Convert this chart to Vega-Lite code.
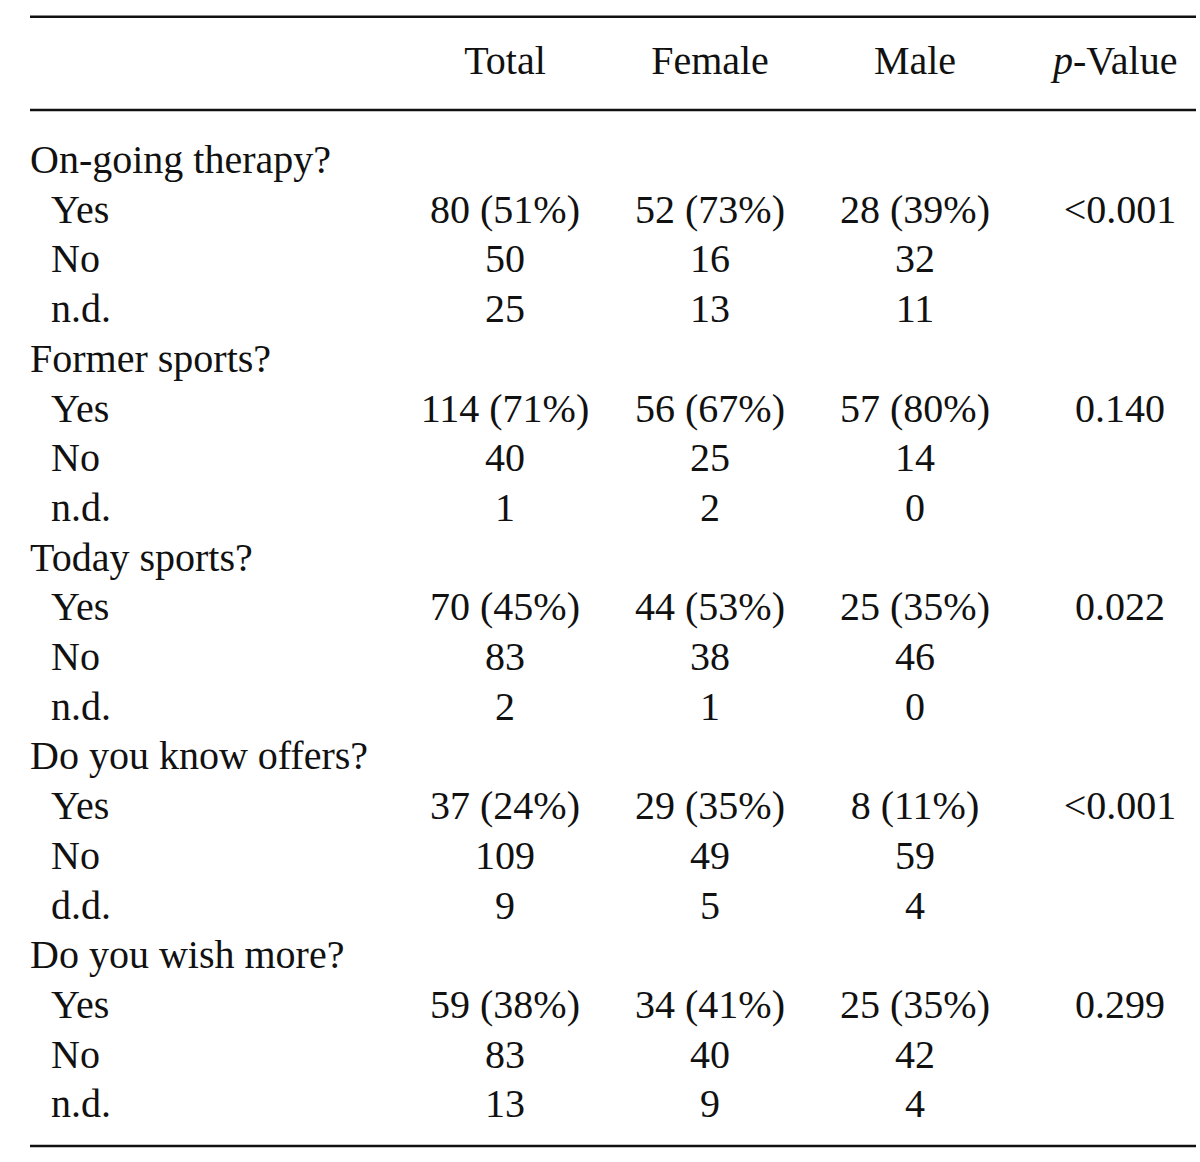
{
  "$schema": "https://vega.github.io/schema/vega-lite/v6.json",
  "width": 1200,
  "height": 1162,
  "autosize": {"type": "fit", "contains": "padding"},
  "padding": {"left": 28, "right": 2, "top": 0, "bottom": 0},
  "background": "white",
  "config": {
    "view": {"stroke": null},
    "text": {"font": "Liberation Serif", "fontSize": 40, "color": "#111", "baseline": "alphabetic"},
    "rule": {"color": "#111", "strokeWidth": 2.5}
  },
  "datasets": {
    "header": [
      {"col": "Total", "text": "Total"},
      {"col": "Female", "text": "Female"},
      {"col": "Male", "text": "Male"},
      {"col": "p-Value", "text": "p-Value"}
    ],
    "labels": [
      {"row": 1, "level": "section", "label": "On-going therapy?"},
      {"row": 2, "level": "item", "label": "Yes"},
      {"row": 3, "level": "item", "label": "No"},
      {"row": 4, "level": "item", "label": "n.d."},
      {"row": 5, "level": "section", "label": "Former sports?"},
      {"row": 6, "level": "item", "label": "Yes"},
      {"row": 7, "level": "item", "label": "No"},
      {"row": 8, "level": "item", "label": "n.d."},
      {"row": 9, "level": "section", "label": "Today sports?"},
      {"row": 10, "level": "item", "label": "Yes"},
      {"row": 11, "level": "item", "label": "No"},
      {"row": 12, "level": "item", "label": "n.d."},
      {"row": 13, "level": "section", "label": "Do you know offers?"},
      {"row": 14, "level": "item", "label": "Yes"},
      {"row": 15, "level": "item", "label": "No"},
      {"row": 16, "level": "item", "label": "d.d."},
      {"row": 17, "level": "section", "label": "Do you wish more?"},
      {"row": 18, "level": "item", "label": "Yes"},
      {"row": 19, "level": "item", "label": "No"},
      {"row": 20, "level": "item", "label": "n.d."}
    ],
    "cells": [
      {"row": 2, "col": "Total", "text": "80 (51%)"},
      {"row": 2, "col": "Female", "text": "52 (73%)"},
      {"row": 2, "col": "Male", "text": "28 (39%)"},
      {"row": 2, "col": "p-Value", "text": "<0.001"},
      {"row": 3, "col": "Total", "text": "50"},
      {"row": 3, "col": "Female", "text": "16"},
      {"row": 3, "col": "Male", "text": "32"},
      {"row": 4, "col": "Total", "text": "25"},
      {"row": 4, "col": "Female", "text": "13"},
      {"row": 4, "col": "Male", "text": "11"},
      {"row": 6, "col": "Total", "text": "114 (71%)"},
      {"row": 6, "col": "Female", "text": "56 (67%)"},
      {"row": 6, "col": "Male", "text": "57 (80%)"},
      {"row": 6, "col": "p-Value", "text": "0.140"},
      {"row": 7, "col": "Total", "text": "40"},
      {"row": 7, "col": "Female", "text": "25"},
      {"row": 7, "col": "Male", "text": "14"},
      {"row": 8, "col": "Total", "text": "1"},
      {"row": 8, "col": "Female", "text": "2"},
      {"row": 8, "col": "Male", "text": "0"},
      {"row": 10, "col": "Total", "text": "70 (45%)"},
      {"row": 10, "col": "Female", "text": "44 (53%)"},
      {"row": 10, "col": "Male", "text": "25 (35%)"},
      {"row": 10, "col": "p-Value", "text": "0.022"},
      {"row": 11, "col": "Total", "text": "83"},
      {"row": 11, "col": "Female", "text": "38"},
      {"row": 11, "col": "Male", "text": "46"},
      {"row": 12, "col": "Total", "text": "2"},
      {"row": 12, "col": "Female", "text": "1"},
      {"row": 12, "col": "Male", "text": "0"},
      {"row": 14, "col": "Total", "text": "37 (24%)"},
      {"row": 14, "col": "Female", "text": "29 (35%)"},
      {"row": 14, "col": "Male", "text": "8 (11%)"},
      {"row": 14, "col": "p-Value", "text": "<0.001"},
      {"row": 15, "col": "Total", "text": "109"},
      {"row": 15, "col": "Female", "text": "49"},
      {"row": 15, "col": "Male", "text": "59"},
      {"row": 16, "col": "Total", "text": "9"},
      {"row": 16, "col": "Female", "text": "5"},
      {"row": 16, "col": "Male", "text": "4"},
      {"row": 18, "col": "Total", "text": "59 (38%)"},
      {"row": 18, "col": "Female", "text": "34 (41%)"},
      {"row": 18, "col": "Male", "text": "25 (35%)"},
      {"row": 18, "col": "p-Value", "text": "0.299"},
      {"row": 19, "col": "Total", "text": "83"},
      {"row": 19, "col": "Female", "text": "40"},
      {"row": 19, "col": "Male", "text": "42"},
      {"row": 20, "col": "Total", "text": "13"},
      {"row": 20, "col": "Female", "text": "9"},
      {"row": 20, "col": "Male", "text": "4"}
    ],
    "rules": [
      {"rule": "top", "row": -2.145},
      {"rule": "header", "row": -0.268},
      {"rule": "bottom", "row": 20.577}
    ]
  },
  "resolve": {"scale": {"x": "independent"}},
  "layer": [
    {
      "data": {"name": "rules"},
      "mark": {"type": "rule"},
      "encoding": {
        "y": {"field": "row", "type": "quantitative", "scale": {"domain": [-2.481, 20.899], "reverse": true, "nice": false, "zero": false}, "axis": null}
      }
    },
    {
      "data": {"name": "header"},
      "transform": [{"filter": "datum.col !== 'p-Value'"}],
      "mark": {"type": "text", "align": "center"},
      "encoding": {
        "x": {"field": "col", "type": "nominal", "scale": {"type": "point", "domain": ["Total", "Female", "Male", "p-Value"], "range": [475, 1090], "padding": 0}, "axis": null},
        "y": {"datum": -1, "type": "quantitative", "scale": {"domain": [-2.481, 20.899], "reverse": true, "nice": false, "zero": false}, "axis": null},
        "text": {"field": "text"}
      }
    },
    {
      "data": {"name": "header"},
      "transform": [{"filter": "datum.col === 'p-Value'"}],
      "mark": {"type": "text", "align": "right", "fontStyle": "italic", "dx": -47},
      "encoding": {
        "x": {"field": "col", "type": "nominal", "scale": {"type": "point", "domain": ["Total", "Female", "Male", "p-Value"], "range": [475, 1090], "padding": 0}, "axis": null},
        "y": {"datum": -1, "type": "quantitative", "scale": {"domain": [-2.481, 20.899], "reverse": true, "nice": false, "zero": false}, "axis": null},
        "text": {"value": "p"}
      }
    },
    {
      "data": {"name": "header"},
      "transform": [{"filter": "datum.col === 'p-Value'"}],
      "mark": {"type": "text", "align": "left", "dx": -47},
      "encoding": {
        "x": {"field": "col", "type": "nominal", "scale": {"type": "point", "domain": ["Total", "Female", "Male", "p-Value"], "range": [475, 1090], "padding": 0}, "axis": null},
        "y": {"datum": -1, "type": "quantitative", "scale": {"domain": [-2.481, 20.899], "reverse": true, "nice": false, "zero": false}, "axis": null},
        "text": {"value": "-Value"}
      }
    },
    {
      "data": {"name": "labels"},
      "mark": {"type": "text", "align": "left"},
      "encoding": {
        "x": {"field": "level", "type": "nominal", "scale": {"type": "point", "domain": ["section", "item"], "range": [0, 21], "padding": 0}, "axis": null},
        "y": {"field": "row", "type": "quantitative", "scale": {"domain": [-2.481, 20.899], "reverse": true, "nice": false, "zero": false}, "axis": null},
        "text": {"field": "label"}
      }
    },
    {
      "data": {"name": "cells"},
      "mark": {"type": "text", "align": "center"},
      "encoding": {
        "x": {"field": "col", "type": "nominal", "scale": {"type": "point", "domain": ["Total", "Female", "Male", "p-Value"], "range": [475, 1090], "padding": 0}, "axis": null},
        "y": {"field": "row", "type": "quantitative", "scale": {"domain": [-2.481, 20.899], "reverse": true, "nice": false, "zero": false}, "axis": null},
        "text": {"field": "text"}
      }
    }
  ]
}
